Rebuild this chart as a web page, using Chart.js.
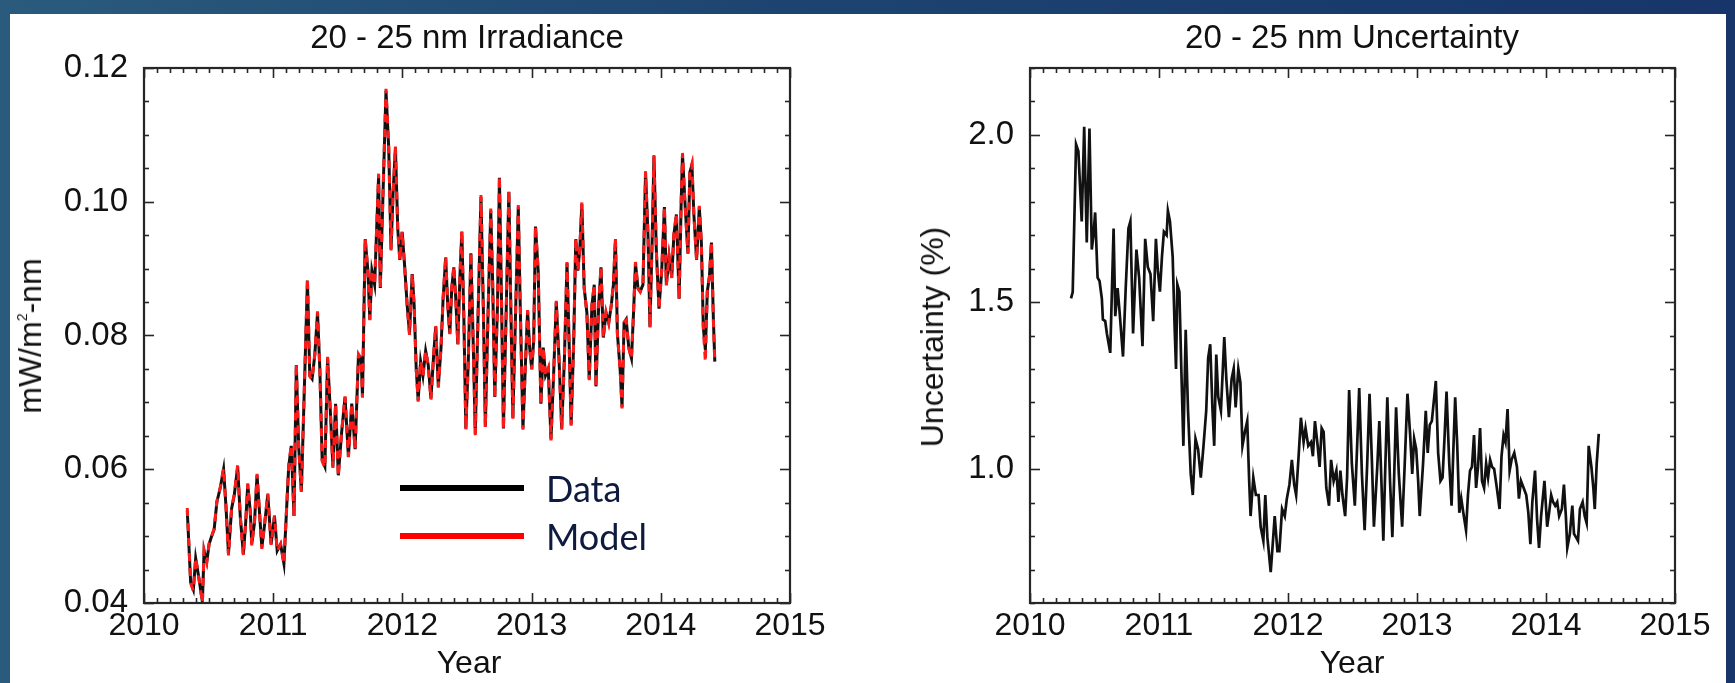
<!DOCTYPE html>
<html>
<head>
<meta charset="utf-8">
<script src="https://cdn.jsdelivr.net/npm/chart.js@4.4.1/dist/chart.umd.min.js"></script>
<style>
  html,body{margin:0;padding:0;}
  body{width:1735px;height:683px;overflow:hidden;position:relative;
       background:linear-gradient(90deg,#2a5b7d 0%,#1d4470 45%,#17356a 100%);}
  #panel{position:absolute;left:10px;top:14px;width:1716px;height:669px;background:#fff;}
  canvas{position:absolute;top:0;}
  .t{position:absolute;font-family:"Liberation Sans",Arial,Helvetica,sans-serif;color:#111;
     white-space:nowrap;line-height:1;transform:translate(-50%,-50%);}
  .rot{transform:translate(-50%,-50%) rotate(-90deg);}
  .lg{position:absolute;height:6px;}
  .lt{position:absolute;font-family:Lato,"Open Sans",sans-serif;font-size:36px;color:#0e1a3e;
      line-height:1;transform:translateY(-50%);white-space:nowrap;}
</style>
</head>
<body>
<div id="panel"></div>
<canvas id="c1" width="868" height="683" style="left:0"></canvas>
<canvas id="c2" width="867" height="683" style="left:868px"></canvas>

<div class="t" style="left:467px;top:36px;font-size:33px;">20 - 25 nm Irradiance</div>
<div class="t" style="left:1352px;top:36px;font-size:33px;">20 - 25 nm Uncertainty</div>
<div class="t" style="left:469px;top:662px;font-size:32px;">Year</div>
<div class="t" style="left:1352px;top:662px;font-size:32px;">Year</div>
<div class="t rot" style="left:30px;top:336px;font-size:32px;">mW/m<span style="font-size:14px;vertical-align:14px;">2</span>-nm</div>
<div class="t rot" style="left:932px;top:337px;font-size:32px;">Uncertainty (%)</div>

<div class="lg" style="left:400px;top:485px;width:124px;background:#000;"></div>
<div class="lg" style="left:400px;top:533px;width:124px;background:#ff0000;"></div>
<div class="lt" style="left:546px;top:488px;">Data</div>
<div class="lt" style="left:546px;top:536px;">Model</div>

<script>
// ---------- data ----------
const yearTicks = [2010, 2011, 2012, 2013, 2014, 2015];
const irrTicks = [0.04, 0.06, 0.08, 0.10, 0.12];
const uncTicks = [1.0, 1.5, 2.0];

const irrYears = [
 2010.335,2010.361,2010.382,2010.400,2010.426,2010.452,2010.465,2010.486,2010.504,2010.522,
 2010.543,2010.564,2010.590,2010.616,2010.634,2010.654,2010.678,2010.699,2010.725,2010.745,
 2010.769,2010.787,2010.803,2010.823,2010.834,2010.855,2010.875,2010.896,2010.912,2010.932,
 2010.958,2010.984,2011.010,2011.031,2011.057,2011.083,2011.101,2011.120,2011.140,2011.161,
 2011.179,2011.197,2011.218,2011.244,2011.265,2011.283,2011.301,2011.322,2011.343,2011.361,
 2011.379,2011.400,2011.421,2011.442,2011.462,2011.483,2011.504,2011.530,2011.556,2011.582,
 2011.608,2011.634,
 2011.660,2011.681,2011.691,2011.712,2011.733,2011.748,2011.764,2011.785,2011.803,2011.816,
 2011.829,2011.847,2011.873,2011.894,2011.912,2011.928,2011.946,2011.964,2011.980,2011.998,
 2012.016,2012.037,2012.055,2012.076,2012.091,2012.107,2012.122,2012.141,2012.159,2012.180,
 2012.200,2012.221,2012.242,2012.258,2012.278,2012.299,2012.315,2012.335,2012.351,2012.367,
 2012.382,2012.398,2012.413,2012.429,2012.445,2012.460,2012.476,2012.491,2012.510,2012.530,
 2012.549,2012.564,2012.586,2012.608,2012.626,2012.642,2012.663,2012.684,2012.699,2012.715,
 2012.736,2012.751,2012.767,2012.782,2012.803,2012.824,2012.839,2012.855,2012.876,2012.897,
 2012.912,2012.933,2012.954,2012.969,2012.985,2013.001,2013.016,
 2013.030,2013.051,2013.072,2013.090,2013.108,2013.129,2013.150,2013.170,2013.191,2013.212,
 2013.233,2013.254,2013.274,2013.290,2013.306,2013.326,2013.342,2013.358,2013.373,2013.389,
 2013.407,2013.428,2013.446,2013.467,2013.485,2013.498,2013.519,2013.537,2013.555,2013.576,
 2013.597,2013.617,2013.633,2013.649,2013.664,2013.685,2013.700,2013.716,2013.732,2013.752,
 2013.773,2013.789,2013.804,2013.823,2013.841,2013.862,2013.882,2013.901,2013.916,2013.934,
 2013.947,2013.965,2013.986,2014.007,2014.028,2014.043,2014.064,2014.085,2014.101,2014.121,
 2014.142,2014.158,2014.168,2014.189,2014.210,2014.225,2014.241,2014.256,2014.277,2014.298,
 2014.314,2014.329,2014.345,2014.360,2014.376,2014.392,2014.407,2014.418
];

const irrData = [
 0.0538,0.0431,0.0420,0.0467,0.0436,0.0402,0.0478,0.0462,0.0488,0.0499,
 0.0510,0.0551,0.0572,0.0600,0.0546,0.0473,0.0541,0.0562,0.0604,0.0530,
 0.0473,0.0520,0.0577,0.0536,0.0488,0.0520,0.0591,0.0530,0.0483,0.0515,
 0.0562,0.0488,0.0530,0.0478,0.0488,0.0459,0.0530,0.0604,0.0635,0.0530,
 0.0756,0.0635,0.0567,0.0740,0.0882,0.0740,0.0735,0.0771,0.0834,0.0750,
 0.0614,0.0604,0.0766,0.0688,0.0604,0.0698,0.0591,0.0656,0.0708,0.0619,
 0.0698,0.0630,
 0.0771,0.0766,0.0708,0.0944,0.0897,0.0824,0.0897,0.0876,0.0971,0.1039,
 0.0871,0.0992,0.1166,0.1081,0.0929,0.1013,0.1081,0.0960,0.0913,0.0955,
 0.0908,0.0845,0.0803,0.0892,0.0845,0.0750,0.0703,0.0761,0.0740,0.0777,
 0.0756,0.0706,0.0771,0.0813,0.0724,0.0782,0.0855,0.0916,0.0845,0.0803,
 0.0871,0.0902,0.0855,0.0787,0.0887,0.0955,0.0824,0.0661,0.0761,0.0923,
 0.0782,0.0653,0.0834,0.1007,0.0845,0.0664,0.0834,0.0987,0.0876,0.0708,
 0.0845,0.1036,0.0855,0.0661,0.0834,0.1015,0.0845,0.0677,0.0834,0.0992,
 0.0845,0.0661,0.0766,0.0837,0.0782,0.0750,0.0792,
 0.0963,0.0897,0.0698,0.0782,0.0740,0.0750,0.0645,0.0740,0.0850,0.0766,
 0.0661,0.0766,0.0908,0.0792,0.0667,0.0792,0.0944,0.0897,0.0929,0.0997,
 0.0871,0.0834,0.0735,0.0845,0.0876,0.0724,0.0845,0.0902,0.0797,0.0834,
 0.0819,0.0845,0.0876,0.0944,0.0803,0.0750,0.0693,0.0819,0.0824,0.0782,
 0.0766,0.0834,0.0908,0.0871,0.0866,0.0876,0.1044,0.0950,0.0813,0.0950,
 0.1068,0.0929,0.0840,0.0897,0.0992,0.0876,0.0918,0.0887,0.0950,0.0981,
 0.0855,0.1002,0.1071,0.0992,0.0923,0.1044,0.1055,0.0981,0.0913,0.0992,
 0.0939,0.0813,0.0778,0.0866,0.0887,0.0939,0.0824,0.0761
];

const irrModel = [
 0.0542,0.0430,0.0418,0.0468,0.0435,0.0400,0.0479,0.0461,0.0489,0.0499,
 0.0511,0.0552,0.0573,0.0602,0.0545,0.0471,0.0542,0.0563,0.0606,0.0529,
 0.0471,0.0521,0.0579,0.0535,0.0486,0.0521,0.0593,0.0529,0.0481,0.0516,
 0.0564,0.0487,0.0531,0.0477,0.0488,0.0458,0.0532,0.0606,0.0637,0.0529,
 0.0759,0.0634,0.0566,0.0742,0.0887,0.0739,0.0734,0.0772,0.0836,0.0749,
 0.0612,0.0602,0.0768,0.0687,0.0602,0.0699,0.0589,0.0657,0.0709,0.0618,
 0.0699,0.0629,
 0.0772,0.0765,0.0707,0.0946,0.0896,0.0823,0.0898,0.0875,0.0973,0.1042,
 0.0870,0.0994,0.1169,0.1083,0.0927,0.1014,0.1083,0.0959,0.0912,0.0956,
 0.0907,0.0844,0.0801,0.0893,0.0844,0.0749,0.0701,0.0762,0.0739,0.0778,
 0.0755,0.0704,0.0772,0.0815,0.0722,0.0783,0.0856,0.0919,0.0844,0.0802,
 0.0872,0.0904,0.0854,0.0786,0.0889,0.0958,0.0823,0.0659,0.0762,0.0925,
 0.0781,0.0651,0.0835,0.1010,0.0844,0.0662,0.0835,0.0990,0.0875,0.0706,
 0.0846,0.1039,0.0854,0.0659,0.0835,0.1018,0.0844,0.0675,0.0835,0.0995,
 0.0844,0.0659,0.0767,0.0838,0.0781,0.0749,0.0793,
 0.0965,0.0896,0.0696,0.0783,0.0739,0.0751,0.0643,0.0741,0.0852,0.0765,
 0.0659,0.0767,0.0910,0.0791,0.0665,0.0793,0.0946,0.0896,0.0930,0.0999,
 0.0870,0.0833,0.0733,0.0846,0.0877,0.0722,0.0846,0.0904,0.0796,0.0835,
 0.0818,0.0846,0.0877,0.0946,0.0802,0.0749,0.0691,0.0820,0.0823,0.0781,
 0.0765,0.0835,0.0910,0.0870,0.0865,0.0877,0.1046,0.0949,0.0811,0.0952,
 0.1070,0.0928,0.0839,0.0898,0.0994,0.0875,0.0919,0.0886,0.0952,0.0983,
 0.0854,0.1004,0.1073,0.0991,0.0922,0.1046,0.1057,0.0980,0.0912,0.0994,
 0.0938,0.0810,0.0760,0.0867,0.0888,0.0941,0.0822,0.0758
];

const uncYears = [
 2010.318,2010.331,2010.357,2010.375,2010.401,2010.420,2010.440,2010.461,2010.479,2010.492,
 2010.505,2010.524,2010.539,2010.557,2010.565,2010.583,2010.596,2010.622,2010.648,2010.661,
 2010.679,2010.695,2010.721,2010.742,2010.763,2010.778,2010.799,2010.825,2010.846,2010.872,
 2010.893,2010.913,2010.934,2010.955,2010.976,2010.991,2011.007,2011.023,2011.038,2011.059,
 2011.069,2011.085,2011.106,2011.121,2011.132,2011.142,2011.158,2011.173,2011.189,2011.207,
 2011.225,2011.246,2011.262,2011.283,2011.303,2011.324,2011.345,2011.366,2011.381,2011.397,
 2011.415,2011.428,2011.444,2011.459,2011.480,2011.506,2011.522,2011.542,2011.563,2011.579,
 2011.594,2011.615,2011.631,
 2011.647,2011.666,2011.684,2011.699,2011.710,2011.731,2011.751,2011.772,2011.788,2011.809,
 2011.824,2011.840,2011.866,2011.897,2011.918,2011.933,2011.954,2011.975,2011.991,2012.011,
 2012.030,2012.048,2012.063,2012.082,2012.100,2012.121,2012.136,2012.157,2012.178,2012.193,
 2012.209,2012.230,2012.245,2012.261,2012.276,2012.297,2012.318,2012.334,2012.354,2012.375,
 2012.391,2012.406,2012.422,2012.443,2012.458,2012.474,2012.495,2012.518,2012.536,2012.552,
 2012.573,2012.594,2012.614,2012.632,2012.651,2012.666,2012.692,2012.708,2012.724,2012.739,
 2012.755,2012.770,2012.791,2012.809,2012.822,2012.838,2012.859,2012.885,2012.905,2012.926,
 2012.947,2012.963,2012.978,2012.994,2013.009,
 2013.021,2013.047,2013.068,2013.083,2013.099,2013.115,2013.146,2013.164,2013.182,2013.198,
 2013.213,2013.229,2013.250,2013.268,2013.281,2013.296,2013.312,2013.328,2013.343,2013.359,
 2013.380,2013.395,2013.411,2013.426,2013.442,2013.458,2013.473,2013.489,2013.504,2013.520,
 2013.536,2013.551,2013.567,2013.582,2013.598,2013.619,2013.640,2013.655,2013.671,2013.686,
 2013.702,2013.718,2013.733,2013.754,2013.775,2013.790,2013.806,2013.827,2013.847,2013.863,
 2013.879,2013.894,2013.915,2013.931,2013.946,2013.962,2013.988,2014.009,2014.024,2014.040,
 2014.055,2014.071,2014.087,2014.102,2014.123,2014.139,2014.154,2014.165,2014.185,2014.204,
 2014.217,2014.232,2014.248,2014.263,2014.284,2014.300,2014.315,2014.331,2014.352,2014.367,
 2014.378,2014.393,2014.409
];

const uncValues = [
 1.511,1.530,1.972,1.951,1.741,2.024,1.678,2.019,1.657,1.700,
 1.768,1.573,1.563,1.510,1.448,1.443,1.406,1.348,1.720,1.458,
 1.542,1.468,1.337,1.542,1.720,1.741,1.406,1.657,1.573,1.368,
 1.689,1.605,1.584,1.443,1.689,1.594,1.531,1.636,1.710,1.700,
 1.773,1.741,1.636,1.427,1.300,1.553,1.531,1.300,1.070,1.417,
 1.175,0.986,0.923,1.091,1.060,0.975,1.070,1.175,1.332,1.374,
 1.175,1.070,1.343,1.217,1.175,1.395,1.270,1.156,1.270,1.301,
 1.185,1.300,1.259,
 1.070,1.112,1.144,0.965,0.860,0.975,0.923,0.923,0.828,0.786,
 0.923,0.797,0.692,0.860,0.755,0.755,0.881,0.860,0.912,0.954,
 1.028,0.954,0.923,1.038,1.154,1.081,1.123,1.070,1.081,1.039,
 1.144,1.070,1.007,1.123,1.112,0.944,0.891,1.028,0.965,0.996,
 0.902,0.996,0.923,0.860,0.975,1.237,1.017,0.891,1.070,1.243,
 0.986,0.818,1.017,1.226,1.017,0.828,1.007,1.144,0.965,0.786,
 1.017,1.215,0.965,0.797,0.965,1.185,0.986,0.828,1.017,1.226,
 1.102,0.986,1.091,1.060,0.965,
 0.860,1.017,1.175,1.049,1.133,1.144,1.264,1.049,0.965,0.975,
 1.091,1.232,1.017,0.891,1.049,1.215,1.070,0.870,0.912,0.870,
 0.818,0.923,0.996,1.007,1.102,0.944,1.007,1.123,0.965,0.944,
 1.017,0.975,1.028,1.007,1.001,0.944,0.881,1.038,1.102,1.081,
 1.180,0.996,1.028,1.049,1.007,0.912,0.965,0.944,0.923,0.870,
 0.776,0.902,0.996,0.849,0.765,0.860,0.965,0.828,0.870,0.923,
 0.902,0.891,0.902,0.860,0.881,0.954,0.860,0.765,0.807,0.891,
 0.807,0.797,0.786,0.881,0.902,0.860,0.839,1.070,1.007,0.944,
 0.881,1.017,1.106
];

// ---------- helpers ----------
const pts = (xs, ys) => xs.map((x, i) => ({x: x, y: ys[i]}));
const FONT = '"Liberation Sans", Arial, Helvetica, sans-serif';

const frameTicks = {
  id: 'frameTicks',
  afterDatasetsDraw(chart, args, o) {
    const {ctx, chartArea: a, scales: {x, y}} = chart;
    ctx.save();
    ctx.strokeStyle = '#262626';
    ctx.lineWidth = 1.6;
    const seg = (x1, y1, x2, y2) => { ctx.beginPath(); ctx.moveTo(x1, y1); ctx.lineTo(x2, y2); ctx.stroke(); };
    const nx = Math.round((x.max - x.min) / o.xMinor);
    for (let i = 0; i <= nx; i++) {
      const v = x.min + i * o.xMinor;
      const px = Math.round(x.getPixelForValue(v)) + 0.5;
      const major = i % o.xPer === 0;
      const L = major ? 10 : 5;
      seg(px, a.bottom, px, a.bottom - L);
      seg(px, a.top, px, a.top + L);
    }
    const ny = Math.round((y.max - y.min) / o.yMinor);
    for (let i = 0; i <= ny; i++) {
      const v = y.min + i * o.yMinor;
      const py = Math.round(y.getPixelForValue(v)) + 0.5;
      const major = o.yMajor.some(m => Math.abs(m - v) < 1e-9);
      const L = major ? 10 : 5;
      seg(a.left, py, a.left + L, py);
      seg(a.right, py, a.right - L, py);
    }
    ctx.lineWidth = 2.2;
    ctx.strokeRect(a.left, a.top, a.right - a.left, a.bottom - a.top);
    ctx.restore();
  }
};

function xScale() {
  return {
    type: 'linear', min: 2010, max: 2015,
    afterBuildTicks: s => { s.ticks = yearTicks.map(v => ({value: v})); },
    afterFit: s => { s.height = 80; },
    grid: {display: false, drawTicks: false},
    border: {display: false},
    ticks: {autoSkip: false, maxRotation: 0, minRotation: 0, padding: 4,
            color: '#111', font: {family: FONT, size: 32},
            callback: v => String(v)}
  };
}

function yScale(min, max, ticks, digits, width) {
  return {
    type: 'linear', min: min, max: max,
    afterBuildTicks: s => { s.ticks = ticks.map(v => ({value: v})); },
    afterFit: s => { s.width = width; },
    grid: {display: false, drawTicks: false},
    border: {display: false},
    ticks: {autoSkip: false, padding: 16, color: '#111', font: {family: FONT, size: 33},
            callback: v => Number(v).toFixed(digits)}
  };
}

const common = {
  responsive: false, animation: false, devicePixelRatio: 1,
  plugins: {legend: {display: false}, tooltip: {enabled: false}, title: {display: false}},
  elements: {point: {radius: 0}, line: {tension: 0}}
};

new Chart(document.getElementById('c1'), {
  type: 'line',
  data: {datasets: [
    {label: 'Model', data: pts(irrYears, irrModel), borderColor: '#ff1a1a', borderWidth: 3,
     borderDash: [8, 7], order: 0, pointRadius: 0, fill: false},
    {label: 'Data', data: pts(irrYears, irrData), borderColor: '#111111', borderWidth: 3,
     order: 1, pointRadius: 0, fill: false}
  ]},
  options: Object.assign({}, common, {
    layout: {padding: {left: 0, top: 68, right: 78, bottom: 0}},
    scales: {x: xScale(), y: yScale(0.04, 0.12, irrTicks, 2, 144)},
    plugins: Object.assign({}, common.plugins, {frameTicks: {xMinor: 0.1, xPer: 10, yMinor: 0.005, yMajor: irrTicks}})
  }),
  plugins: [frameTicks]
});

new Chart(document.getElementById('c2'), {
  type: 'line',
  data: {datasets: [
    {label: 'Uncertainty', data: pts(uncYears, uncValues), borderColor: '#111111', borderWidth: 2.7,
     pointRadius: 0, fill: false}
  ]},
  options: Object.assign({}, common, {
    layout: {padding: {left: 0, top: 68, right: 60, bottom: 0}},
    scales: {x: xScale(), y: yScale(0.6, 2.2, uncTicks, 1, 162)},
    plugins: Object.assign({}, common.plugins, {frameTicks: {xMinor: 0.1, xPer: 10, yMinor: 0.1, yMajor: uncTicks}})
  }),
  plugins: [frameTicks]
});
</script>
</body>
</html>
